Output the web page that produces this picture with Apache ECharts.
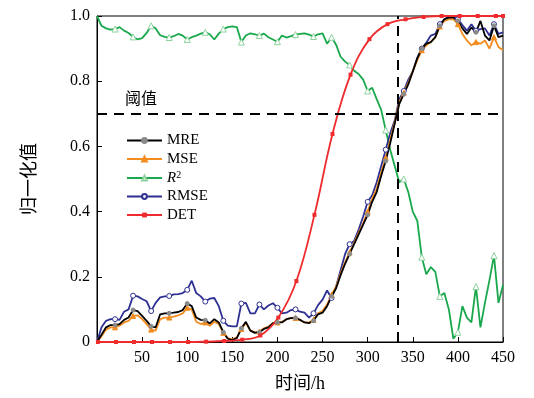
<!DOCTYPE html>
<html>
<head>
<meta charset="utf-8">
<script src="https://cdn.jsdelivr.net/npm/echarts@6/dist/echarts.min.js"></script>
<style>
  html, body { margin: 0; padding: 0; background: #fff; }
  #chart { width: 534px; height: 398px; }
</style>
</head>
<body>
<div id="chart"></div>
<script>
// sampled every 5 h, 0..450
const mre = [0.0, 0.022, 0.045, 0.052, 0.052, 0.055, 0.068, 0.075, 0.098, 0.095,
  0.08, 0.065, 0.048, 0.045, 0.085, 0.088, 0.088, 0.09, 0.092, 0.098,
  0.118, 0.11, 0.075, 0.068, 0.067, 0.057, 0.07, 0.06, 0.03, 0.01,
  0.006, 0.012, 0.042, 0.062, 0.035, 0.028, 0.03, 0.04, 0.045, 0.058,
  0.06, 0.06, 0.07, 0.073, 0.074, 0.068, 0.06, 0.058, 0.065, 0.085,
  0.09, 0.11, 0.14, 0.165, 0.205, 0.24, 0.27, 0.3, 0.33, 0.36,
  0.39, 0.43, 0.46, 0.51, 0.555, 0.61, 0.67, 0.73, 0.76, 0.79,
  0.83, 0.87, 0.9, 0.915, 0.92, 0.935, 0.97, 0.99, 0.995, 0.995,
  0.985, 0.962, 0.945, 0.965, 0.95, 0.985, 0.94, 0.925, 0.97, 0.935, 0.94];

const mse = [0.0, 0.018, 0.038, 0.045, 0.045, 0.05, 0.06, 0.065, 0.08, 0.082,
  0.07, 0.055, 0.038, 0.035, 0.07, 0.075, 0.075, 0.078, 0.082, 0.088,
  0.105, 0.1, 0.062, 0.055, 0.06, 0.05, 0.062, 0.055, 0.028, 0.012,
  0.008, 0.014, 0.04, 0.058, 0.035, 0.03, 0.032, 0.042, 0.047, 0.058,
  0.06, 0.062, 0.07, 0.074, 0.074, 0.067, 0.06, 0.06, 0.068, 0.088,
  0.095, 0.115, 0.145, 0.17, 0.21, 0.245, 0.275, 0.305, 0.335, 0.365,
  0.4, 0.44, 0.47, 0.52, 0.565, 0.62, 0.675, 0.735, 0.765, 0.795,
  0.83, 0.865, 0.895, 0.91, 0.92, 0.935, 0.968, 0.985, 0.99, 0.99,
  0.975, 0.945, 0.925, 0.91, 0.92, 0.915, 0.925, 0.9, 0.935, 0.905, 0.895];

const r2 = [1.0, 0.97, 0.962, 0.958, 0.96, 0.966, 0.955, 0.948, 0.936, 0.928,
  0.932, 0.948, 0.97, 0.962, 0.941, 0.936, 0.934, 0.938, 0.945, 0.94,
  0.928, 0.935, 0.94, 0.946, 0.95, 0.944, 0.928, 0.946, 0.96, 0.966,
  0.968, 0.966, 0.92, 0.94, 0.947, 0.944, 0.94, 0.946, 0.935, 0.928,
  0.921, 0.94, 0.934, 0.938, 0.943, 0.945, 0.947, 0.943, 0.937, 0.944,
  0.947, 0.915, 0.935, 0.912, 0.875, 0.86, 0.85, 0.832, 0.822, 0.805,
  0.77, 0.78, 0.745, 0.712, 0.65, 0.59, 0.54, 0.49, 0.5, 0.46,
  0.4, 0.372, 0.26, 0.208, 0.23, 0.215, 0.14, 0.15, 0.1, 0.01,
  0.03, 0.11, 0.075, 0.06, 0.17, 0.045, 0.12, 0.19, 0.265, 0.12, 0.175];

const rmse = [0.0, 0.045, 0.065, 0.07, 0.07, 0.068, 0.093, 0.1, 0.142, 0.14,
  0.132, 0.125, 0.095, 0.12, 0.137, 0.14, 0.141, 0.146, 0.147, 0.15,
  0.16, 0.188, 0.15, 0.14, 0.124, 0.133, 0.135, 0.11, 0.065, 0.05,
  0.048, 0.048, 0.118, 0.12, 0.088, 0.088, 0.115, 0.1, 0.112, 0.119,
  0.105, 0.088, 0.09, 0.098, 0.1, 0.093, 0.09, 0.075, 0.088, 0.113,
  0.13, 0.158, 0.135, 0.17, 0.22, 0.27, 0.3, 0.31, 0.345, 0.385,
  0.43, 0.45, 0.49, 0.54, 0.59, 0.64, 0.68, 0.745, 0.77, 0.805,
  0.83, 0.872, 0.9, 0.918, 0.94, 0.945, 0.975, 0.99, 0.998, 0.998,
  0.99, 0.972, 0.955, 0.975, 0.955, 0.96, 0.962, 0.94, 0.975, 0.945, 0.95];

const detTimes = [1, 21, 41, 61, 81, 101, 121, 141, 161, 181, 201, 221, 241, 261,
  281, 302, 322, 342, 362, 382, 402, 422, 442, 450];
const det = [0, 0, 0, 0, 0, 0, 0.001, 0.003, 0.007, 0.02, 0.075, 0.187, 0.39, 0.638,
  0.82, 0.929, 0.975, 0.99, 0.997, 1.0, 1.0, 1.0, 1.0, 1.0];

const threshold = 0.7;
const alarmTime = 333;

const serif = '"Liberation Serif", "Noto Sans CJK SC", serif';

function withMarks(values, step) {
  return values.map((v, i) => {
    const item = { value: [i * step, v] };
    if (i === 0 || i % 4 !== 0) item.symbol = 'none';
    return item;
  });
}

function lineSeries(name, values, color, symbol, size, fill, border) {
  return {
    name: name,
    type: 'line',
    data: withMarks(values, 5),
    symbol: symbol,
    symbolSize: size,
    showAllSymbol: true,
    lineStyle: { color: color, width: 1.8 },
    itemStyle: { color: fill, borderColor: border || color, borderWidth: 1 },
    emphasis: { disabled: true },
    animation: false
  };
}

const chart = echarts.init(document.getElementById('chart'));
chart.setOption({
  backgroundColor: '#fff',
  grid: { left: 97, right: 31, top: 16, bottom: 56, show: true, borderColor: '#000', borderWidth: 1 },
  legend: {
    orient: 'vertical',
    left: 121,
    top: 128,
    itemWidth: 35,
    itemHeight: 6,
    itemGap: 3.5,
    data: ['MRE', 'MSE', 'R2', 'RMSE', 'DET'],
    formatter: n => n === 'R2' ? '{i|R}{s|2}' : n,
    textStyle: {
      fontFamily: serif, fontSize: 15, color: '#000',
      rich: {
        i: { fontFamily: serif, fontSize: 15, fontStyle: 'italic', color: '#000' },
        s: { fontFamily: serif, fontSize: 10, color: '#000', verticalAlign: 'top', padding: [0, 0, 6, 0] }
      }
    }
  },
  xAxis: {
    type: 'value', min: 0, max: 450, interval: 50,
    name: '时间/h', nameLocation: 'middle', nameGap: 33,
    nameTextStyle: { fontFamily: serif, fontSize: 18, color: '#000' },
    axisLine: { lineStyle: { color: '#000', width: 1 } },
    axisTick: { inside: true, length: 5, lineStyle: { color: '#000' } },
    axisLabel: { fontFamily: serif, fontSize: 16, color: '#000', margin: 8, formatter: v => v === 0 ? '' : v },
    splitLine: { show: false }
  },
  yAxis: {
    type: 'value', min: 0, max: 1, interval: 0.2,
    name: '归一化值', nameLocation: 'middle', nameGap: 58, nameRotate: 90,
    nameTextStyle: { fontFamily: serif, fontSize: 18, color: '#000' },
    axisLine: { lineStyle: { color: '#000', width: 1 } },
    axisTick: { inside: true, length: 5, lineStyle: { color: '#000' } },
    axisLabel: { fontFamily: serif, fontSize: 16, color: '#000', margin: 7, formatter: v => v === 0 ? '0' : v.toFixed(1) },
    splitLine: { show: false }
  },
  series: [
    lineSeries('R2', r2, '#19a84b', 'triangle', 6, '#ffffff', '#8fd39f'),
    lineSeries('RMSE', rmse, '#2e3192', 'circle', 5, '#ffffff', '#2e3192'),
    lineSeries('MSE', mse, '#f28c1f', 'triangle', 5, '#f28c1f'),
    lineSeries('MRE', mre, '#000000', 'circle', 4, '#8a8a8a', '#8a8a8a'),
    {
      name: 'DET',
      type: 'line',
      data: detTimes.map((t, i) => [t, det[i]]),
      smooth: 0.4,
      symbol: 'rect',
      symbolSize: 4,
      lineStyle: { color: '#ef2b2d', width: 1.8 },
      itemStyle: { color: '#ef2b2d' },
      emphasis: { disabled: true },
      animation: false,
      markLine: {
        silent: true,
        symbol: 'none',
        animation: false,
        lineStyle: { color: '#000', width: 2, type: [10, 7] },
        data: [
          {
            yAxis: threshold,
            label: { show: true, formatter: '阈值', position: 'insideStartTop', distance: [28, 6],
              fontFamily: serif, fontSize: 16, color: '#000' }
          },
          { xAxis: alarmTime, label: { show: false } }
        ]
      }
    }
  ]
});
</script>
</body>
</html>
